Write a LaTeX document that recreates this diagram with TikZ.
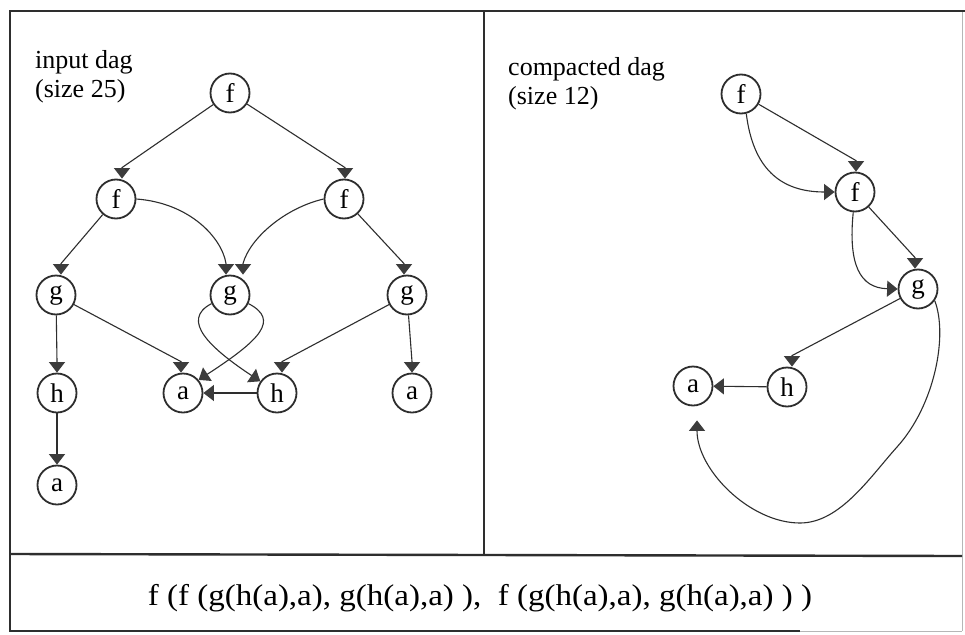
\documentclass[tikz,border=0pt]{standalone}
\usepackage{fontspec}
\usepackage{graphicx}
\setmainfont{Liberation Serif}
\usetikzlibrary{arrows.meta}
\definecolor{ink}{HTML}{2E2E2E}
\definecolor{tipgray}{HTML}{3C3C3C}
\tikzset{
  frameline/.style={draw=ink, line width=2.4pt},
  faintline/.style={draw=ink!35, line width=1pt},
  term/.style={circle, draw=ink, line width=1.8pt, minimum size=39pt, inner sep=0pt,
    font=\fontsize{27}{27}\selectfont},
  edge/.style={draw=ink, line width=1.1pt,
    -{Triangle[width=16pt,length=10.5pt,fill=tipgray,color=tipgray]}},
  caption/.style={anchor=base west, inner sep=0pt, font=\fontsize{26}{29}\selectfont}
}
\begin{document}
\begin{tikzpicture}[x=1pt,y=-1pt]
\useasboundingbox (0,0) rectangle (965,634);
\fill[white] (0,0) rectangle (965,634);

% frame and panel dividers
\draw[faintline] (962,11) -- (962,631);
\draw[frameline] (965,11) -- (10,11) -- (10,631) -- (800,631);
\draw[faintline] (800,631) -- (962,631);
\draw[frameline] (484,11) -- (484,554);
\draw[frameline] (10,554) -- (962,556);

% ---------- left panel: input dag ----------
\node[caption] (t1) at (35,68) {input dag};
\node[caption] (t2) at (35,97) {(size 25)};

\node[term] (lf0) at (230,93)  {f};
\node[term] (lf1) at (116,199) {f};
\node[term] (lf2) at (344,199) {f};
\node[term] (lg1) at (56,295)  {g};
\node[term] (lg2) at (230,295) {g};
\node[term] (lg3) at (407,295) {g};
\node[term] (lh1) at (57,393)  {h};
\node[term] (la1) at (183,393) {a};
\node[term] (lh2) at (277,393) {h};
\node[term] (la3) at (412,393) {a};
\node[term] (la4) at (57,485)  {a};

\draw[edge] (lf0) -- ([xshift=6pt,yshift=11pt]lf1.north) -- ([xshift=6pt]lf1.north);
\draw[edge] (lf0) -- ([xshift=1pt,yshift=11pt]lf2.north) -- ([xshift=1pt]lf2.north);
\draw[edge] (lf1) -- ([xshift=5pt,yshift=11pt]lg1.north) -- ([xshift=5pt]lg1.north);
\draw[edge] (lf2) -- ([xshift=-3pt,yshift=11pt]lg3.north) -- ([xshift=-3pt]lg3.north);
\draw[edge] (lf1.east) .. controls (190,203) and (222,238) .. ([xshift=-4pt,yshift=11pt]lg2.north) -- ([xshift=-4pt]lg2.north);
\draw[edge] (lf2.west) .. controls (285,208) and (250,238) .. ([xshift=13pt,yshift=11pt]lg2.north) -- ([xshift=13pt]lg2.north);
\draw[edge] (lg1) -- ([yshift=11pt]lh1.north) -- (lh1.north);
\draw[edge] (lg1) -- ([xshift=-2pt,yshift=11pt]la1.north) -- ([xshift=-2pt]la1.north);
\draw[edge] (lg3) -- ([xshift=5pt,yshift=11pt]lh2.north) -- ([xshift=5pt]lh2.north);
\draw[edge] (lg3) -- ([yshift=11pt]la3.north) -- (la3.north);
\draw[edge] (lh1) -- ([yshift=11pt]la4.north) -- (la4.north);
\draw[edge] (lh2) -- (la1);
\draw[edge] (lg2.205) .. controls (180,320) and (210,348) .. (lh2.145);
\draw[edge] (lg2.335) .. controls (280,320) and (260,340) .. (la1.40);

% ---------- right panel: compacted dag ----------
\node[caption] (t3) at (508,75)  {compacted dag};
\node[caption] (t4) at (508,104) {(size 12)};

\node[term] (rf0) at (741,94)  {f};
\node[term] (rf1) at (855,192) {f};
\node[term] (rg)  at (918,289) {g};
\node[term] (rh)  at (787,387) {h};
\node[term] (ra)  at (693,386) {a};

\draw[edge] (rf0) -- ([xshift=1pt,yshift=11pt]rf1.north) -- ([xshift=1pt]rf1.north);
\draw[edge] (rf0.-75) .. controls (753,168) and (780,192) .. (rf1.west);
\draw[edge] (rf1) -- ([xshift=-3pt,yshift=11pt]rg.north) -- ([xshift=-3pt]rg.north);
\draw[edge] (rf1.-95) .. controls (848,265) and (860,288) .. (rg.west);
\draw[edge] (rg) -- ([xshift=5pt,yshift=11pt]rh.north) -- ([xshift=5pt]rh.north);
\draw[edge] (rh) -- (ra);
\draw[edge] (rg.-35) .. controls (948,335) and (935,405) .. (897,447)
  .. controls (870,477) and (840,523) .. (800,523)
  .. controls (750,523) and (697,470) .. ([xshift=4pt,yshift=-14pt]ra.south);

% ---------- term written out ----------
\node[font=\fontsize{30}{30}\selectfont, inner sep=0pt] (term) at (480,598)
  {\scalebox{1.1}[1]{f (f (g(h(a),a), g(h(a),a) ),\ \ f (g(h(a),a), g(h(a),a) ) )}};
\end{tikzpicture}
\end{document}
